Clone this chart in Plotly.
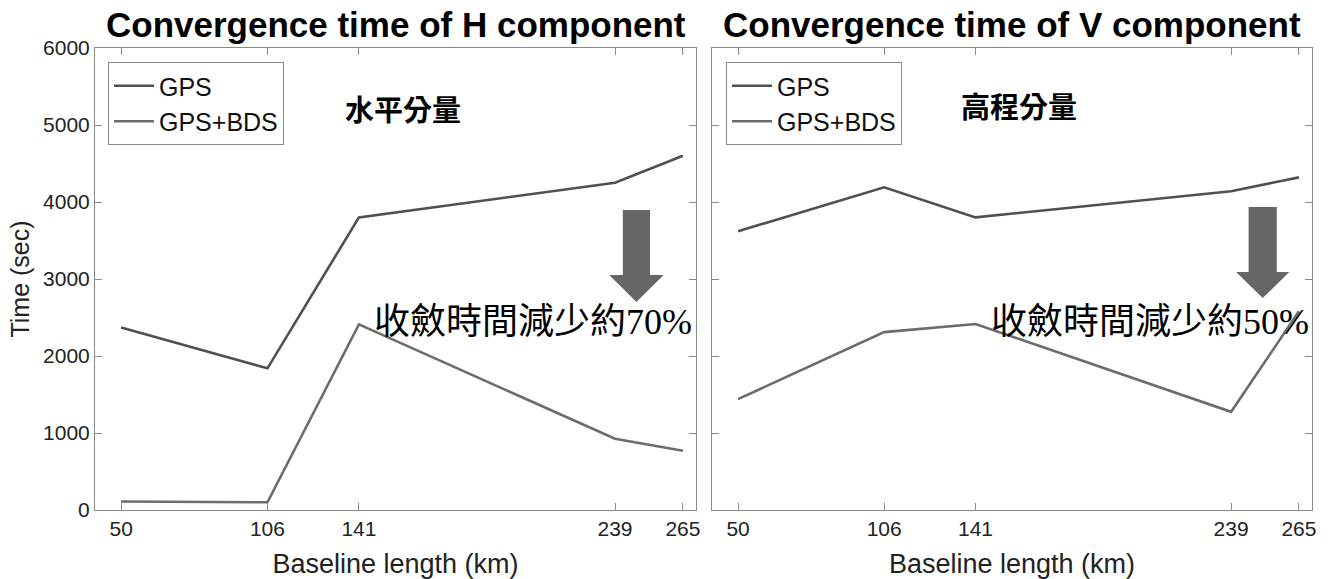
import plotly.graph_objects as go

# ---- data ----
baseline_km = [50, 106, 141, 239, 265]
tick_labels = ["50", "106", "141", "239", "265"]

h_gps = [2370, 1840, 3800, 4250, 4600]
h_gps_bds = [110, 100, 2410, 925, 770]

v_gps = [3620, 4190, 3800, 4140, 4320]
v_gps_bds = [1440, 2310, 2415, 1275, 2580]

series_names = ["GPS", "GPS+BDS"]
series_colors = ["#505050", "#6c6c6c"]

titles = ["Convergence time of H component", "Convergence time of V component"]
labels_cn = ["水平分量", "高程分量"]
reduction_text = ["收斂時間減少約70%", "收斂時間減少約50%"]

W, H = 1329, 579

def px_x(p):
    return p / W

def px_y(p):
    return (H - p) / H

fig = go.Figure()

panels = [
    (h_gps, h_gps_bds, "x", "y", "legend"),
    (v_gps, v_gps_bds, "x2", "y2", "legend2"),
]
for gps, bds, xa, ya, lg in panels:
    for name, vals, col in zip(series_names, [gps, bds], series_colors):
        fig.add_trace(go.Scatter(
            x=baseline_km, y=vals, mode="lines", name=name,
            line=dict(color=col, width=2.6),
            xaxis=xa, yaxis=ya, legend=lg, showlegend=True,
        ))

ydom = [px_y(510), px_y(48)]
axis_common = dict(
    range=[40, 270], tickvals=baseline_km, ticktext=tick_labels,
    ticks="inside", ticklen=7, tickcolor="#8a8a8a", tickwidth=1,
    showline=True, linecolor="#8a8a8a", linewidth=1, mirror="allticks",
    showgrid=False, zeroline=False, automargin=False,
    tickfont=dict(family="Liberation Sans", size=21, color="#222222"),
    title=dict(text="Baseline length (km)",
               font=dict(family="Liberation Sans", size=27, color="#222222"),
               standoff=14),
)
yaxis_common = dict(
    range=[0, 6000], tickvals=[0, 1000, 2000, 3000, 4000, 5000, 6000],
    ticks="inside", ticklen=7, tickcolor="#8a8a8a", tickwidth=1,
    showline=True, linecolor="#8a8a8a", linewidth=1, mirror="allticks",
    showgrid=False, zeroline=False, automargin=False,
    tickfont=dict(family="Liberation Sans", size=21, color="#222222"),
)

legend_common = dict(
    xanchor="left", yanchor="top",
    bordercolor="#8a8a8a", borderwidth=1, bgcolor="white",
    font=dict(family="Liberation Sans", size=25, color="#111111"),
    itemwidth=40, tracegroupgap=0,
)

fig.update_layout(
    width=W, height=H,
    margin=dict(l=0, r=0, t=0, b=0, autoexpand=False),
    paper_bgcolor="white", plot_bgcolor="white",
    xaxis=dict(domain=[px_x(95), px_x(696)], anchor="y", **axis_common),
    xaxis2=dict(domain=[px_x(712), px_x(1312)], anchor="y2", **axis_common),
    yaxis=dict(domain=ydom, anchor="x",
               title=dict(text="Time (sec)",
                          font=dict(family="Liberation Sans", size=25, color="#222222"),
                          standoff=6),
               **yaxis_common),
    yaxis2=dict(domain=ydom, anchor="x2", showticklabels=False, **yaxis_common),
    legend=dict(x=px_x(108), y=px_y(62), **legend_common),
    legend2=dict(x=px_x(726), y=px_y(62), **legend_common),
    showlegend=True,
)

# titles
for cx, t in zip([395.5, 1012], titles):
    fig.add_annotation(text="<b>%s</b>" % t, xref="paper", yref="paper",
                       x=px_x(cx), y=px_y(24), xanchor="center", yanchor="middle",
                       showarrow=False,
                       font=dict(family="Liberation Sans", size=35, color="#000000"))

# Chinese labels
for xa, ya, txt, xc, yc in [("x", "y", labels_cn[0], 158, 5220), ("x2", "y2", labels_cn[1], 157.5, 5260)]:
    fig.add_annotation(text="<b>%s</b>" % txt, xref=xa, yref=ya, x=xc, y=yc,
                       xanchor="center", yanchor="middle", showarrow=False,
                       font=dict(family="Noto Sans CJK TC", size=29, color="#000000"))

# reduction text
for xa, ya, txt in [("x", "y", reduction_text[0]), ("x2", "y2", reduction_text[1])]:
    fig.add_annotation(text=txt, xref=xa, yref=ya, x=146, y=2440,
                       xanchor="left", yanchor="middle", showarrow=False,
                       font=dict(family="Liberation Serif, Noto Sans CJK TC", size=36, color="#000000"))

# block arrows (decoration)
def arrow_path(xc, shaft_hw, head_hw, y_top, y_neck, y_tip):
    return ("M {a},{t} L {b},{t} L {b},{n} L {c},{n} L {xc},{p} L {d},{n} L {a},{n} Z"
            .format(a=xc - shaft_hw, b=xc + shaft_hw, c=xc + head_hw, d=xc - head_hw,
                    t=y_top, n=y_neck, p=y_tip, xc=xc))

fig.add_shape(type="path", xref="x", yref="y",
              path=arrow_path(247.2, 5.2, 10.4, 3896, 3052, 2701),
              fillcolor="#666666", line=dict(width=0))
fig.add_shape(type="path", xref="x2", yref="y2",
              path=arrow_path(251.1, 5.4, 10.2, 3935, 3091, 2753),
              fillcolor="#666666", line=dict(width=0))

fig.write_html("out.html")
